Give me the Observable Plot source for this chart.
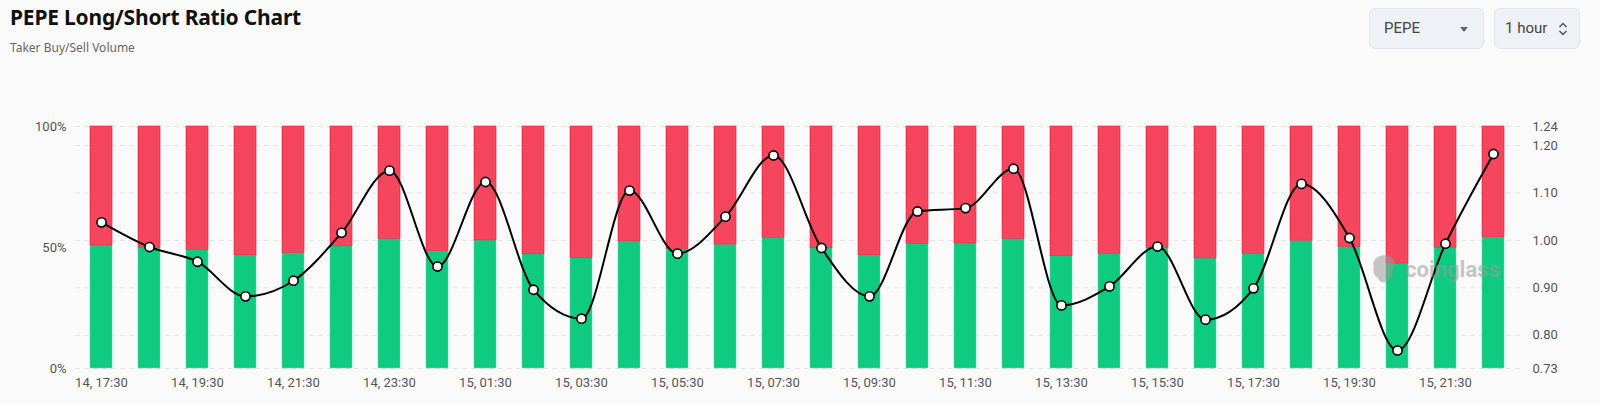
<!DOCTYPE html>
<html>
<head>
<meta charset="utf-8">
<script src="https://cdn.jsdelivr.net/npm/d3@7"></script>
<script src="https://cdn.jsdelivr.net/npm/@observablehq/plot@0.6"></script>
<style>
  html, body { margin: 0; padding: 0; background: #fafafa; }
  #wrap { position: relative; width: 1600px; height: 404px; overflow: hidden; font-family: "Noto Sans", Roboto, sans-serif; }
  #chart { position: absolute; left: 0; top: 0; }
  #title { position: absolute; left: 10px; top: 3px; font-size: 21px; font-weight: 700; color: #111; letter-spacing: -0.2px; }
  #subtitle { position: absolute; left: 10px; top: 39px; font-size: 12px; color: #666; }
  .ctl { position: absolute; top: 8px; height: 41px; box-sizing: border-box; background: #eef1f5; border: 1px solid #e2e6ec; border-radius: 6px; font-family: Roboto, sans-serif; font-size: 15px; color: #444; line-height: 39px; }
  #sym { left: 1369px; width: 115px; padding-left: 14px; }
  #sym .caret { position: absolute; left: 90px; top: 18px; width: 0; height: 0; border-left: 4.5px solid transparent; border-right: 4.5px solid transparent; border-top: 5px solid #666; }
  #intv { left: 1494px; width: 86px; padding-left: 10px; }
  #intv svg { position: absolute; left: 62px; top: 12px; }
  #wm { position: absolute; left: 1372px; top: 254px; display: flex; align-items: center; gap: 9px; opacity: 0.55; pointer-events: none; }
  #wm span { font-family: Roboto, sans-serif; font-weight: 700; font-size: 22px; color: #9a9a9a; letter-spacing: 0px; }
</style>
</head>
<body>
<div id="wrap">
  <div id="chart"></div>
  <div id="title">PEPE Long/Short Ratio Chart</div>
  <div id="subtitle">Taker Buy/Sell Volume</div>
  <div class="ctl" id="sym">PEPE<div class="caret"></div></div>
  <div class="ctl" id="intv">1 hour<svg width="12" height="16" viewBox="0 0 12 16"><path d="M2.5 6 L6 2.5 L9.5 6 M2.5 10 L6 13.5 L9.5 10" fill="none" stroke="#555" stroke-width="1.5"/></svg></div>
  <div id="wm">
    <svg width="24" height="30" viewBox="0 0 24 30"><path d="M6 3 C10 0 18 1 21 5 C24 9 23 14 20 17 C22 21 19 26 15 27 C12 30 7 28 6 24 C2 22 0 17 2 13 C0 9 2 5 6 3 Z" fill="#9a9a9a"/></svg>
    <span>coinglass</span>
  </div>
</div>
<script>
const times = [
  "14, 17:30","14, 18:30","14, 19:30","14, 20:30","14, 21:30","14, 22:30","14, 23:30",
  "15, 00:30","15, 01:30","15, 02:30","15, 03:30","15, 04:30","15, 05:30","15, 06:30",
  "15, 07:30","15, 08:30","15, 09:30","15, 10:30","15, 11:30","15, 12:30","15, 13:30",
  "15, 14:30","15, 15:30","15, 16:30","15, 17:30","15, 18:30","15, 19:30","15, 20:30",
  "15, 21:30","15, 22:30"
];
// long (buy) share in %, short share = 100 - long
const longPct = [
  50.8, 49.9, 49.0, 46.8, 47.8, 50.5, 53.6, 48.5, 52.9, 47.2,
  45.6, 52.5, 49.4, 51.2, 54.0, 49.7, 46.8, 51.5, 51.6, 53.6,
  46.4, 47.4, 49.8, 45.5, 47.4, 52.8, 50.2, 43.3, 49.8, 54.3
];
// long/short ratio (right axis)
const ratio = [
  1.038, 0.986, 0.955, 0.882, 0.915, 1.016, 1.147, 0.945, 1.123, 0.896,
  0.835, 1.105, 0.972, 1.050, 1.179, 0.984, 0.882, 1.061, 1.068, 1.151,
  0.863, 0.903, 0.987, 0.833, 0.899, 1.119, 1.005, 0.768, 0.993, 1.182
];
const xTickLabels = times.filter((d, i) => i % 2 === 0);
const leftTicks = [0, 50, 100];
const rightTicks = [0.73, 0.80, 0.90, 1.00, 1.10, 1.20, 1.24];
const ratioMin = 0.73, ratioMax = 1.24;

const toPct = d3.scaleLinear().domain([ratioMin, ratioMax]).range([0, 100]);
const data = times.map((t, i) => ({time: t, long: longPct[i], ratio: ratio[i]}));
const rightTickPos = rightTicks.map(toPct);

const chart = Plot.plot({
  width: 1600,
  height: 404,
  marginLeft: 75,
  marginRight: 80,
  marginTop: 126,
  marginBottom: 36,
  style: {background: "transparent", fontFamily: "Roboto, sans-serif", fontSize: "13px", color: "#555", overflow: "visible"},
  x: {type: "band", domain: times, paddingInner: 0.54, paddingOuter: 0.27, axis: null, label: null},
  y: {domain: [0, 100], axis: null, label: null},
  marks: [
    Plot.gridY(rightTickPos, {stroke: "#e2e2e2", strokeOpacity: 1, strokeDasharray: "5,4"}),
    Plot.barY(data, {x: "time", y1: 0, y2: "long", fill: "#0ecb81", stroke: "#5fdca8", strokeWidth: 0.5}),
    Plot.barY(data, {x: "time", y1: "long", y2: 100, fill: "#f6465d", stroke: "#ee1e44", strokeWidth: 0.6}),
    Plot.line(data, {x: "time", y: d => toPct(d.ratio), curve: "monotone-x", stroke: "#000", strokeWidth: 2}),
    Plot.dot(data, {x: "time", y: d => toPct(d.ratio), r: 4.6, fill: "#fff", stroke: "#000", strokeWidth: 1.6}),
    Plot.axisX(xTickLabels, {tickSize: 0, tickPadding: 9, fill: "#555", fontSize: 13, label: null}),
    Plot.axisY(leftTicks, {anchor: "left", tickSize: 0, tickPadding: 9, tickFormat: d => d + "%", fill: "#555", fontSize: 13, label: null}),
    Plot.axisY(rightTickPos, {anchor: "right", tickSize: 0, tickPadding: 12, tickFormat: v => toPct.invert(v).toFixed(2), fill: "#555", fontSize: 13, label: null})
  ]
});
document.getElementById("chart").appendChild(chart);
</script>
</body>
</html>
